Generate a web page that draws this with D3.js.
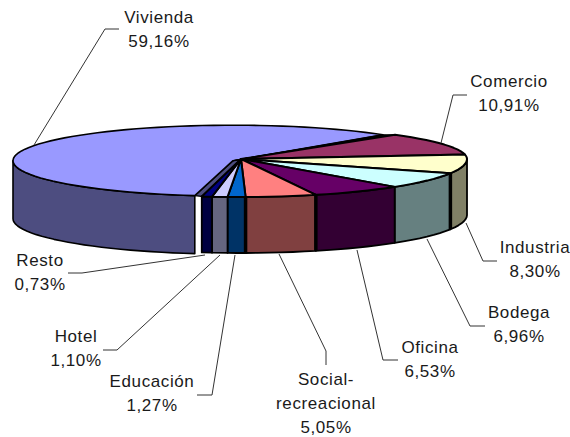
<!DOCTYPE html>
<html>
<head>
<meta charset="utf-8">
<script src="https://cdn.jsdelivr.net/npm/d3@7"></script>
<style>
    html, body { margin: 0; padding: 0; background: #fff; }
    text { font-family: "Liberation Sans", Arial, sans-serif; font-size: 17px; fill: #1a1a1a; letter-spacing: 0.6px; }
</style>
</head>
<body>
<div id="chart"></div>
<script>
const categories = ["Vivienda", "Comercio", "Industria", "Bodega", "Oficina", "Social-recreacional", "Educación", "Hotel", "Resto"];
const values = [59.16, 10.91, 8.30, 6.96, 6.53, 5.05, 1.27, 1.10, 0.73];
const valueLabels = ["59,16%", "10,91%", "8,30%", "6,96%", "6,53%", "5,05%", "1,27%", "1,10%", "0,73%"];
const topColors = ["#9999ff", "#993366", "#ffffcc", "#ccffff", "#660066", "#ff8080", "#0066cc", "#ccccff", "#000080"];
const sideColors = ["#4d4d80", "#4d1a33", "#808066", "#668080", "#330033", "#804040", "#003366", "#666680", "#000040"];
// slices whose front edge shows as a heavy black bar on the wall
const heavyEdges = ["Bodega", "Social-recreacional", "Educación"];

// label text lines, anchor and leader line, same order as categories
const labelLines = [["Vivienda"], ["Comercio"], ["Industria"], ["Bodega"], ["Oficina"], ["Social-", "recreacional"], ["Educación"], ["Hotel"], ["Resto"]];
const labelPos = [[159, 23], [509, 87], [535, 253], [519, 318], [430, 353], [326, 385], [152, 387], [76, 342], [40, 266]];
const leaders = [
    [[34, 145], [105, 29], [119, 29]],
    [[441, 143], [453, 95], [467, 95]],
    [[466, 223], [483, 261], [497, 261]],
    [[427, 239], [470, 326], [485, 326]],
    [[357, 250], [383, 360], [398, 360]],
    [[279, 254], [326, 351], [326, 365]],
    [[235, 255], [212, 395], [197, 395]],
    [[220, 255], [117, 350], [103, 350]],
    [[205, 255], [82, 273], [68, 273]]
];

const width = 570, height = 437;
const svg = d3.select("#chart").append("svg").attr("width", width).attr("height", height);

const rad = d => d * Math.PI / 180;

// Vivienda is pulled out of the pie, so it has its own ellipse
const mainX = d3.scaleLinear().domain([-1, 1]).range([241 - 226, 241 + 226]);
const mainY = d3.scaleLinear().domain([-1, 0, 1]).range([159 + 38, 159, 159 - 33]);
const vivX = d3.scaleLinear().domain([-1, 1]).range([233 - 220, 233 + 220]);
const vivY = d3.scaleLinear().domain([-1, 0, 1]).range([160.7 + 35.5, 160.7, 160.7 - 35.5]);
const mainDepth = 56, vivDepth = 58;

const slices = d3.pie().sort(null).startAngle(rad(190)).endAngle(rad(550))(values);

function rim(a0, a1, xs, ys) {
    const n = Math.max(1, Math.round((a1 - a0) / rad(3)));
    return d3.range(n + 1).map(i => {
        const a = a0 + (a1 - a0) * i / n;
        return [xs(Math.sin(a)), ys(Math.cos(a))];
    });
}

const line = d3.line();

function topPath(s, xs, ys) {
    return line([[xs(0), ys(0)], ...rim(s.startAngle, s.endAngle, xs, ys)]) + "Z";
}

function sidePath(a0, a1, xs, ys, depth) {
    const upper = rim(a0, a1, xs, ys);
    const lower = upper.map(p => [p[0], p[1] + depth]).reverse();
    return line([...upper, ...lower]) + "Z";
}

// the gap between Vivienda and the rest of the pie at a given angle
function gapPath(a) {
    return line([
        [vivX(0), vivY(0)],
        [vivX(Math.sin(a)), vivY(Math.cos(a))],
        [mainX(Math.sin(a)), mainY(Math.cos(a))],
        [mainX(0), mainY(0)]
    ]) + "Z";
}

const gPie = svg.append("g")
    .attr("stroke", "#000")
    .attr("stroke-linejoin", "round");

// outer wall of Vivienda, only the front left part shows
const viv = slices[0];
gPie.append("path")
    .attr("d", sidePath(viv.startAngle, rad(270), vivX, vivY, vivDepth))
    .attr("fill", sideColors[0])
    .attr("stroke-width", 1.6);

// cut face of Vivienda seen through the gap next to Resto
gPie.append("path")
    .attr("d", gapPath(viv.startAngle))
    .attr("fill", sideColors[0])
    .attr("stroke-width", 1.2);

gPie.append("path")
    .attr("d", topPath(viv, vivX, vivY))
    .attr("fill", topColors[0])
    .attr("stroke-width", 1.6);

// the other end of the gap reads as a thick black wedge
gPie.append("path")
    .attr("d", gapPath(viv.endAngle))
    .attr("fill", "#000")
    .attr("stroke-width", 1);

// outer walls of the other slices, front half only (their angles run past 360)
slices.slice(1).forEach(s => {
    const a0 = Math.max(s.startAngle, rad(450));
    const a1 = Math.min(s.endAngle, rad(630));
    if (a1 <= a0) return;
    gPie.append("path")
        .attr("d", sidePath(a0, a1, mainX, mainY, mainDepth))
        .attr("fill", sideColors[s.index])
        .attr("stroke-width", 1.8);
});

slices.slice(1).forEach(s => {
    if (!heavyEdges.includes(categories[s.index])) return;
    const x = mainX(Math.sin(s.startAngle));
    const y = mainY(Math.cos(s.startAngle));
    gPie.append("path")
        .attr("d", line([[x, y], [x, y + mainDepth]]))
        .attr("stroke-width", 3.5);
});

slices.slice(1).forEach(s => {
    gPie.append("path")
        .attr("d", topPath(s, mainX, mainY))
        .attr("fill", topColors[s.index])
        .attr("stroke-width", 2);
});

// leader lines
svg.append("g").selectAll("path")
    .data(leaders)
    .join("path")
    .attr("d", d => line(d))
    .attr("fill", "none")
    .attr("stroke", "#333")
    .attr("stroke-width", 1);

// labels
const lineGap = 24;
categories.forEach((c, i) => {
    const lines = [...labelLines[i], valueLabels[i]];
    const t = svg.append("text")
        .attr("text-anchor", "middle")
        .attr("x", labelPos[i][0])
        .attr("y", labelPos[i][1]);
    lines.forEach((l, j) => {
        t.append("tspan")
            .attr("x", labelPos[i][0])
            .attr("y", labelPos[i][1] + j * lineGap)
            .text(l);
    });
});
</script>
</body>
</html>
